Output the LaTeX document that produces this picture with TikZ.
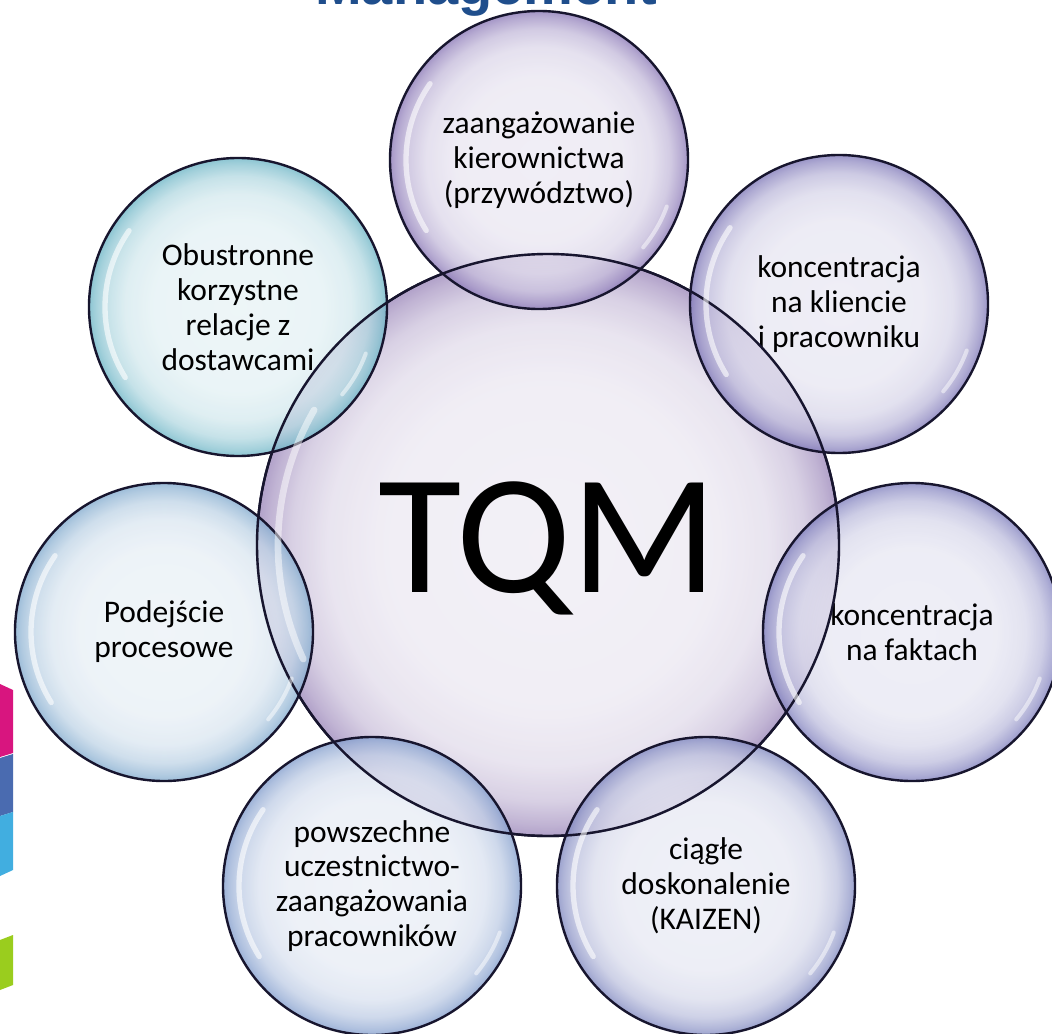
\documentclass[tikz,border=0pt]{standalone}
\usepackage{fontspec}
\setmainfont{Carlito}
\newfontfamily\titlefont{Liberation Sans}
\definecolor{rimline}{HTML}{17152E}
\definecolor{cBig}{HTML}{8A72AE}
\definecolor{cTop}{HTML}{7660AA}
\definecolor{cUR}{HTML}{6860AC}
\definecolor{cR}{HTML}{6868B2}
\definecolor{cLR}{HTML}{6A74B6}
\definecolor{cLL}{HTML}{6C8CC4}
\definecolor{cL}{HTML}{6C9CC6}
\definecolor{cUL}{HTML}{52A8BC}
\definecolor{titleblue}{HTML}{1F4E8C}
\definecolor{barMag}{HTML}{D8157F}
\definecolor{barBlue}{HTML}{4A6BB0}
\definecolor{barLight}{HTML}{41AEE0}
\definecolor{barGreen}{HTML}{9ACD1E}
% radial shading: the circle edge lies at 25bp of the 50bp shading
\newcommand\mkbubshade[2]{\pgfdeclareradialshading{#1}{\pgfpointorigin}{color(0bp)=(#2!13!white); color(14bp)=(#2!15!white); color(19bp)=(#2!24!white); color(22bp)=(#2!42!white); color(24bp)=(#2!68!white); color(25bp)=(#2!85!white); color(50bp)=(#2!85!white)}}
\mkbubshade{shBig}{cBig}
\mkbubshade{shTop}{cTop}
\mkbubshade{shUR}{cUR}
\mkbubshade{shR}{cR}
\mkbubshade{shLR}{cLR}
\mkbubshade{shLL}{cLL}
\mkbubshade{shL}{cL}
\mkbubshade{shUL}{cUL}
\newcommand\bubfont{\fontsize{23.6pt}{26.2pt}\selectfont}
\begin{document}
\begin{tikzpicture}[x=0.75pt,y=-0.75pt,
  bubble/.style={circle, minimum size=223.5pt, inner sep=0pt, outer sep=0pt,
    draw=rimline, line width=1.8pt, fill opacity=0.78, text opacity=1,
    draw opacity=1, align=center, font=\bubfont, text=black},
  hl/.style={white, line width=4pt, line cap=round, opacity=0.6}]
\useasboundingbox (0,0) rectangle (1052,1034);
\fill[white] (0,0) rectangle (1052,1034);
% logo fragments at the left edge
\fill[barMag] (0,684) -- (13,690) -- (13,753) -- (0,757) -- cycle;
\fill[barBlue] (0,758) -- (13,754) -- (13,812) -- (0,816) -- cycle;
\fill[barLight] (0,816) -- (13,812) -- (13,870) -- (0,876) -- cycle;
\fill[barGreen] (0,940) -- (13,935) -- (13,985) -- (0,990) -- cycle;
% title (cut off at the top edge, as in the reference)
\node[anchor=base west, inner sep=0pt, text=titleblue,
  font=\titlefont\bfseries\fontsize{42pt}{42pt}\selectfont] (title) at (315,5) {Management};
% central bubble
\node[bubble, shading=shBig, minimum size=436.5pt] (tqm) at (548,545) {};
\node[inner sep=0pt, anchor=base, font=\fontsize{128pt}{128pt}\selectfont] (tqmtext) at (548,592) {TQM};
% outer bubbles
\node[bubble, shading=shTop] (top) at (539,160) {zaangażowanie\\kierownictwa\\(przywództwo)};
\node[bubble, shading=shUR] (ur) at (839,304) {koncentracja\\na kliencie\\i pracowniku};
\node[bubble, shading=shR] (r) at (912,632) {koncentracja\\na faktach};
\node[bubble, shading=shLR] (lr) at (706,886) {ciągłe\\doskonalenie\\(KAIZEN)};
\node[bubble, shading=shLL] (ll) at (372,886) {powszechne\\uczestnictwo-\\zaangażowania\\pracowników};
\node[bubble, shading=shL] (l) at (164,632) {Podejście\\procesowe};
\node[bubble, shading=shUL] (ul) at (238,307) {Obustronne\\korzystne\\relacje z\\dostawcami};
% outline of the central bubble over the others
\draw[rimline, line width=1.8pt] (tqm.center) circle[radius=291];
% highlights
\foreach \n in {top,ur,r,lr,ll,l,ul}{
  \draw[hl] (\n.center) ++(-145:133) arc[start angle=-145, end angle=-212, radius=133];
  \draw[hl, line width=3pt, opacity=0.5] (\n.center) ++(20:136) arc[start angle=20, end angle=40, radius=136];
}
\draw[hl, line width=5pt, opacity=0.5] (tqm.center) ++(-150:270) arc[start angle=-150, end angle=-205, radius=270];
\end{tikzpicture}
\end{document}
